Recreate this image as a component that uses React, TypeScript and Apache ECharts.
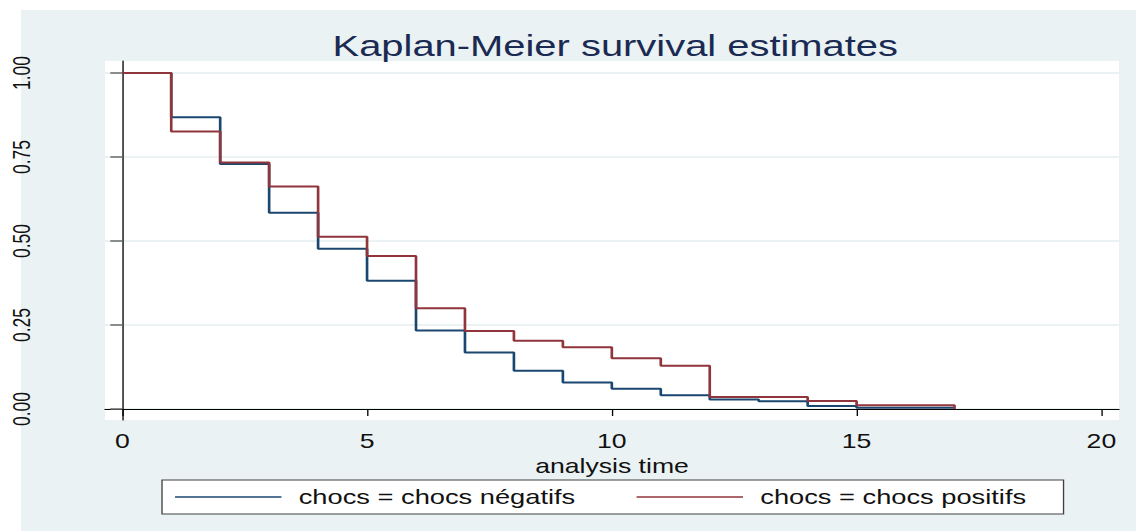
import React, { useEffect, useRef } from "react";
import * as echarts from "echarts";

const times = [0, 1, 2, 3, 4, 5, 6, 7, 8, 9, 10, 11, 12, 13, 14, 15, 17];
const negatifs = [1.0, 0.868, 0.729, 0.584, 0.477, 0.382, 0.234, 0.168, 0.114, 0.079, 0.06, 0.041, 0.028, 0.023, 0.009, 0.004, 0.004];
const positifs = [1.0, 0.826, 0.734, 0.662, 0.513, 0.455, 0.3, 0.232, 0.203, 0.184, 0.151, 0.129, 0.036, 0.036, 0.024, 0.011, 0.0];
const xTicks = [0, 5, 10, 15, 20];
const yTicks = [0, 0.25, 0.5, 0.75, 1];
const seriesNames = ["chocs = chocs négatifs", "chocs = chocs positifs"];
const titleText = "Kaplan-Meier survival estimates";
const xName = "analysis time";

const W = 854;
const H = 531;
const S = 1136 / W;

export default function App() {
  const ref = useRef<HTMLDivElement>(null);
  useEffect(() => {
    if (!ref.current) return;
    const chart = echarts.init(ref.current, undefined, { renderer: "svg" });
    const font = "Liberation Sans, Arial, Helvetica, sans-serif";
    chart.setOption({
      animation: false,
      textStyle: { fontFamily: font },
      graphic: [
        {
          type: "rect",
          z: -10,
          silent: true,
          shape: { x: 21 / S, y: 10, width: W, height: H },
          style: { fill: "#eaf2f3" },
        },
      ],
      title: {
        text: titleText,
        left: 250,
        top: 30,
        padding: 0,
        textStyle: { color: "#1a2a52", fontSize: 30, fontWeight: "normal", fontFamily: font },
      },
      legend: {
        left: 121.8,
        top: 480,
        orient: "horizontal",
        padding: [6.5, 28, 6.5, 9.8],
        backgroundColor: "#ffffff",
        borderColor: "#404040",
        borderWidth: 1,
        borderRadius: 0,
        icon: "rect",
        itemWidth: 80,
        itemHeight: 1.6,
        itemGap: 46,
        textStyle: { fontSize: 20.5, color: "#111", padding: [0, 0, 0, 8], fontFamily: font },
        data: seriesNames,
      },
      grid: {
        left: 105 / S,
        right: W - 1119 / S,
        top: 61,
        bottom: H - 420,
        show: true,
        backgroundColor: "#ffffff",
        borderWidth: 0,
      },
      xAxis: {
        type: "value",
        min: -0.353,
        max: 20.36,
        name: xName,
        nameLocation: "middle",
        nameGap: 27,
        nameTextStyle: { fontSize: 20, color: "#111", fontFamily: font },
        axisLine: { show: true, lineStyle: { color: "#000", width: 1 } },
        axisTick: { show: true, length: 7, customValues: xTicks, lineStyle: { color: "#000", width: 1 } },
        axisLabel: { customValues: xTicks, fontSize: 20, color: "#111", margin: 11, fontFamily: font },
        splitLine: { show: false },
      },
      yAxis: {
        type: "value",
        min: -0.0327,
        max: 1.0357,
        axisLine: { show: true, lineStyle: { color: "#000", width: 1 } },
        axisTick: { show: true, length: 12 / S, customValues: yTicks, lineStyle: { color: "#6b6b6b", width: 1.5 } },
        axisLabel: {
          customValues: yTicks,
          rotate: 90,
          fontSize: 17.5,
          color: "#111",
          margin: 54,
          fontFamily: font,
          formatter: (v: number) => v.toFixed(2),
        },
        splitLine: { show: true, lineStyle: { color: "#eaf2f3", width: 2 } },
      },
      series: [
        {
          name: seriesNames[0],
          type: "line",
          step: "end",
          symbol: "none",
          data: times.map((t, i) => [t, negatifs[i]]),
          lineStyle: { color: "#1a476f", width: 2 },
          itemStyle: { color: "#1a476f" },
        },
        {
          name: seriesNames[1],
          type: "line",
          step: "end",
          symbol: "none",
          data: times.map((t, i) => [t, positifs[i]]),
          lineStyle: { color: "#90353b", width: 2 },
          itemStyle: { color: "#90353b" },
        },
      ],
    });
    return () => chart.dispose();
  }, []);
  return (
    <div style={{ position: "fixed", left: 0, top: 0, width: 1136, height: 531, background: "#fff", overflow: "hidden" }}>
      <div
        ref={ref}
        style={{ width: W, height: H, transform: `scaleX(${S})`, transformOrigin: "0 0" }}
      />
    </div>
  );
}
